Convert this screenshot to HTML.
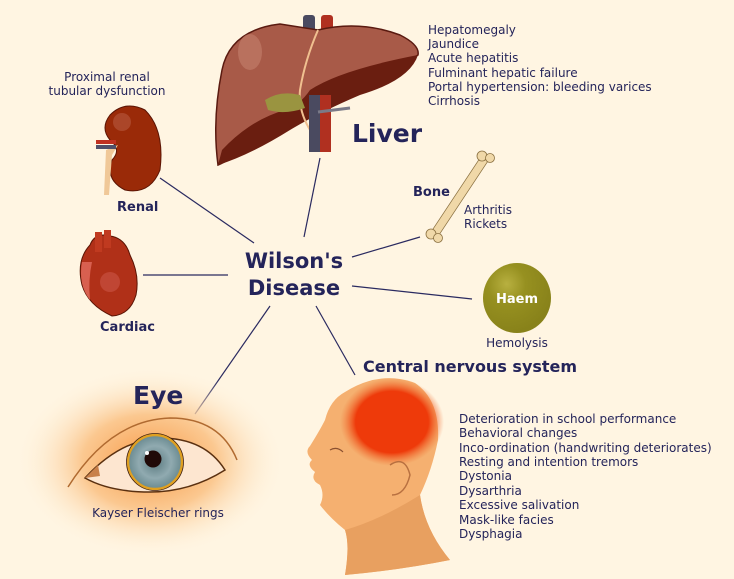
<!DOCTYPE html>
<html><head><meta charset="utf-8"><style>
html,body{margin:0;padding:0;background:#fff5e2;}
svg{display:block;}
text{font-family:"DejaVu Sans","Liberation Sans",sans-serif;fill:#24245a;}
</style></head><body>
<svg width="734" height="579" viewBox="0 0 734 579" xmlns="http://www.w3.org/2000/svg">
<defs>
<radialGradient id="glow" cx="0.5" cy="0.5" r="0.5">
<stop offset="0" stop-color="#f89a48"/><stop offset="0.5" stop-color="#fbc890"/><stop offset="1" stop-color="#fff5e2" stop-opacity="0"/>
</radialGradient>
<radialGradient id="brain" cx="0.5" cy="0.5" r="0.5">
<stop offset="0.7" stop-color="#ee3a0a"/><stop offset="1" stop-color="#f07030" stop-opacity="0"/>
</radialGradient>
<radialGradient id="iris" cx="0.5" cy="0.5" r="0.5">
<stop offset="0" stop-color="#5a7a80"/><stop offset="0.6" stop-color="#90aab0"/><stop offset="1" stop-color="#6a8a90"/>
</radialGradient>
<radialGradient id="haem" cx="0.35" cy="0.3" r="0.7">
<stop offset="0" stop-color="#b8b040"/><stop offset="0.4" stop-color="#969020"/><stop offset="1" stop-color="#88821a"/>
</radialGradient>
</defs>
<rect width="734" height="579" fill="#fff5e2"/>

<g stroke="#2a2a60" stroke-width="1.2">
<line x1="160" y1="178" x2="254" y2="243"/>
<line x1="320" y1="158" x2="304" y2="237"/>
<line x1="352" y1="257" x2="420" y2="237"/>
<line x1="143" y1="275" x2="228" y2="275"/>
<line x1="352" y1="286" x2="472" y2="299"/>
<line x1="270" y1="306" x2="195" y2="414"/>
<line x1="316" y1="306" x2="355" y2="375"/>
</g>

<!-- liver -->
<rect x="303" y="15" width="12" height="22" fill="#4a4a60" rx="3"/>
<rect x="321" y="15" width="12" height="22" fill="#b03020" rx="3"/>
<path d="M222 70 Q230 30 280 24 L318 30 Q360 20 400 35 Q420 45 418 55 Q380 80 345 90 Q300 110 260 140 Q230 160 218 165 Q212 120 222 70Z" fill="#a85a48" stroke="#5a1a10" stroke-width="1.5"/>
<path d="M218 165 Q240 130 280 115 Q300 105 310 90 Q340 70 418 55 Q410 80 360 95 Q320 112 290 130 Q250 155 218 165Z" fill="#6a1e10"/>
<path d="M222 150 Q250 120 285 110 L290 128 Q250 152 218 165Z" fill="#6a1e10"/>
<ellipse cx="250" cy="52" rx="12" ry="18" fill="#c07a68" opacity="0.7"/>
<path d="M318 30 Q305 60 300 90 Q298 110 310 130" stroke="#f0c090" stroke-width="2" fill="none"/>
<path d="M265 100 Q280 90 300 95 L305 108 Q285 115 268 110Z" fill="#9a9440"/>
<rect x="309" y="95" width="11" height="57" fill="#4a4a60"/>
<rect x="320" y="95" width="11" height="57" fill="#b03020"/>
<path d="M318 112 L350 108" stroke="#7a7a88" stroke-width="3"/>

<!-- kidney -->
<path d="M110 115 Q125 100 145 110 Q165 130 160 170 Q150 195 125 190 Q105 180 112 160 Q122 150 110 140 Q100 128 110 115Z" fill="#9a2a08" stroke="#5a1404" stroke-width="1"/>
<circle cx="122" cy="122" r="9" fill="#b85a40" opacity="0.6"/>
<path d="M118 145 L106 150 L104 195 L109 195 L112 155Z" fill="#f0c898"/>
<rect x="96" y="140" width="20" height="4" fill="#c03020"/>
<rect x="96" y="145" width="20" height="4" fill="#50506a"/>

<!-- heart -->
<path d="M90 245 Q95 232 110 236 Q125 238 130 255 Q140 275 136 295 Q130 315 112 316 Q88 305 82 285 Q76 260 90 245Z" fill="#b03018" stroke="#5a1404"/>
<path d="M82 262 Q78 285 90 300 Q88 280 92 262Z" fill="#d86050"/>
<rect x="95" y="232" width="7" height="20" fill="#c03a20"/>
<rect x="104" y="230" width="7" height="18" fill="#c03a20"/>
<circle cx="110" cy="282" r="10" fill="#c85040" opacity="0.7"/>

<!-- bone -->
<path d="M485 158 L436 232" stroke="#8a7040" stroke-width="9" stroke-linecap="round"/>
<path d="M485 158 L436 232" stroke="#f0d8a8" stroke-width="7.5" stroke-linecap="round"/>
<circle cx="482" cy="156" r="5" fill="#f0d8a8" stroke="#8a7040" stroke-width="0.8"/>
<circle cx="490" cy="158" r="4.5" fill="#f0d8a8" stroke="#8a7040" stroke-width="0.8"/>
<circle cx="431" cy="234" r="5" fill="#f0d8a8" stroke="#8a7040" stroke-width="0.8"/>
<circle cx="438" cy="238" r="4.5" fill="#f0d8a8" stroke="#8a7040" stroke-width="0.8"/>

<ellipse cx="517" cy="298" rx="34" ry="35" fill="url(#haem)"/>

<!-- eye -->
<ellipse cx="150" cy="462" rx="135" ry="95" fill="url(#glow)"/>
<path d="M68 487 Q110 420 170 418 Q220 418 237 460" stroke="#b06a30" stroke-width="1.5" fill="none"/>
<path d="M85 478 Q120 440 160 438 Q205 438 225 470 Q190 492 150 492 Q110 492 85 478Z" fill="#fde6d0" stroke="#5a3010" stroke-width="1.5"/>
<path d="M85 478 L98 465 L100 476Z" fill="#c8804a"/>
<circle cx="155" cy="462" r="27" fill="url(#iris)" stroke="#e0a020" stroke-width="2.5"/>
<circle cx="155" cy="462" r="28.5" fill="none" stroke="#402010" stroke-width="0.8"/>
<circle cx="153" cy="459" r="8.5" fill="#200a08"/>
<circle cx="147" cy="453" r="2" fill="#fff"/>

<!-- head -->
<path d="M345 392 Q380 370 415 383 Q440 400 438 440 Q432 470 420 495 Q425 530 450 560 Q400 570 345 575 Q350 545 345 530 Q330 518 320 505 Q325 495 320 485 Q310 480 315 472 Q306 465 312 460 Q304 452 310 446 Q320 430 325 420 Q330 400 345 392Z" fill="#f5b070"/>
<path d="M345 530 Q380 520 420 495 Q425 530 450 560 Q400 570 345 575 Q350 545 345 530Z" fill="#e8a060"/>
<ellipse cx="392" cy="422" rx="52" ry="44" fill="url(#brain)"/>
<path d="M390 465 Q405 455 410 475 Q405 495 392 495" stroke="#b87040" stroke-width="1.5" fill="#f5b070"/>
<path d="M330 450 Q337 446 343 452" stroke="#8a5030" stroke-width="1.2" fill="none"/>

<g font-size="12">
<text x="428" y="34">Hepatomegaly</text>
<text x="428" y="48">Jaundice</text>
<text x="428" y="62">Acute hepatitis</text>
<text x="428" y="77">Fulminant hepatic failure</text>
<text x="428" y="91">Portal hypertension: bleeding varices</text>
<text x="428" y="105">Cirrhosis</text>
<text x="107" y="81" text-anchor="middle">Proximal renal</text>
<text x="107" y="95" text-anchor="middle">tubular dysfunction</text>
<text x="464" y="214">Arthritis</text>
<text x="464" y="228">Rickets</text>
<text x="517" y="347" text-anchor="middle">Hemolysis</text>
<text x="158" y="517" text-anchor="middle">Kayser Fleischer rings</text>
<text x="459" y="423">Deterioration in school performance</text>
<text x="459" y="437">Behavioral changes</text>
<text x="459" y="452">Inco-ordination (handwriting deteriorates)</text>
<text x="459" y="466">Resting and intention tremors</text>
<text x="459" y="480">Dystonia</text>
<text x="459" y="495">Dysarthria</text>
<text x="459" y="509">Excessive salivation</text>
<text x="459" y="524">Mask-like facies</text>
<text x="459" y="538">Dysphagia</text>
</g>
<g font-weight="bold">
<text x="352" y="142" font-size="25">Liver</text>
<text x="117" y="211" font-size="13">Renal</text>
<text x="413" y="196" font-size="13">Bone</text>
<text x="100" y="331" font-size="13">Cardiac</text>
<text x="517" y="303" font-size="13" text-anchor="middle" style="fill:#fff">Haem</text>
<text x="294" y="268" font-size="21" text-anchor="middle">Wilson's</text>
<text x="294" y="295" font-size="21" text-anchor="middle">Disease</text>
<text x="133" y="404" font-size="25">Eye</text>
<text x="363" y="372" font-size="16">Central nervous system</text>
</g>
</svg>
</body></html>
